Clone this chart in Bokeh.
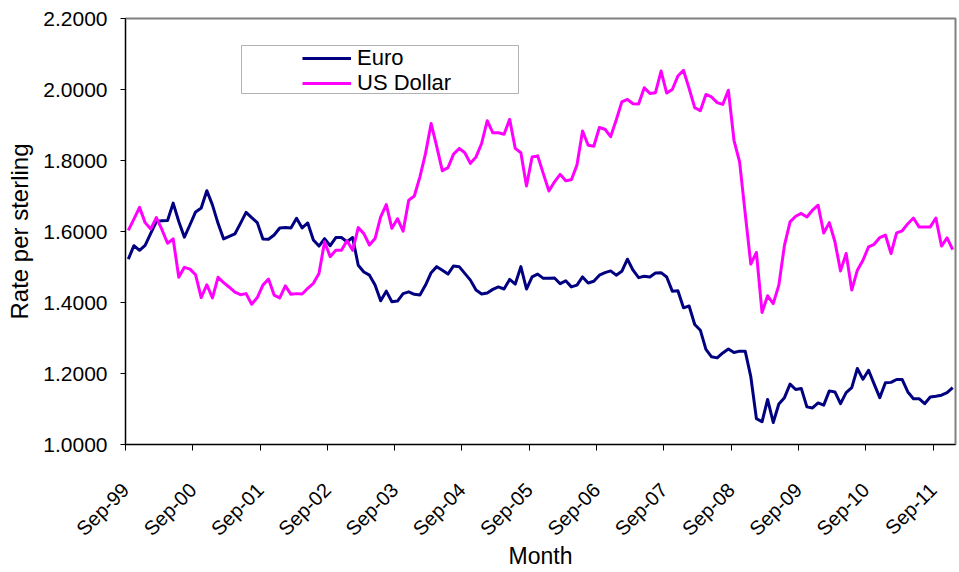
import math

from bokeh.embed import file_html
from bokeh.models import (BoxAnnotation, CustomJSTickFormatter, FixedTicker, Legend,
                          LegendItem, NumeralTickFormatter, Range1d)
from bokeh.plotting import figure
from bokeh.resources import INLINE

# Month-end rates per pound sterling, Sep 1999 to Dec 2011 (one value per month)
tick_labels = ["Sep-99", "Sep-00", "Sep-01", "Sep-02", "Sep-03", "Sep-04", "Sep-05",
               "Sep-06", "Sep-07", "Sep-08", "Sep-09", "Sep-10", "Sep-11"]

euro = [
    1.522, 1.560, 1.547, 1.561, 1.595, 1.628, 1.630, 1.631, 1.680, 1.628, 1.584, 1.619,
    1.655, 1.666, 1.715, 1.675, 1.623, 1.579, 1.586, 1.593, 1.623, 1.654, 1.639, 1.625,
    1.579, 1.578, 1.590, 1.610, 1.611, 1.610, 1.637, 1.610, 1.624, 1.576, 1.559, 1.580,
    1.560, 1.583, 1.583, 1.571, 1.583, 1.505, 1.486, 1.477, 1.449, 1.405, 1.432, 1.402,
    1.404, 1.425, 1.430, 1.423, 1.421, 1.449, 1.484, 1.501, 1.491, 1.480, 1.503, 1.501,
    1.482, 1.463, 1.435, 1.424, 1.427, 1.437, 1.444, 1.438, 1.465, 1.452, 1.501, 1.438,
    1.472, 1.480, 1.468, 1.468, 1.469, 1.453, 1.461, 1.444, 1.449, 1.472, 1.455, 1.460,
    1.477, 1.484, 1.489, 1.477, 1.488, 1.522, 1.491, 1.470, 1.474, 1.472, 1.483, 1.484,
    1.472, 1.432, 1.433, 1.385, 1.390, 1.338, 1.322, 1.268, 1.247, 1.244, 1.258, 1.269,
    1.259, 1.263, 1.263, 1.191, 1.073, 1.064, 1.127, 1.062, 1.114, 1.132, 1.170, 1.155,
    1.158, 1.106, 1.103, 1.117, 1.111, 1.151, 1.148, 1.115, 1.146, 1.160, 1.214, 1.184,
    1.209, 1.170, 1.132, 1.174, 1.175, 1.183, 1.183, 1.148, 1.129, 1.129, 1.115, 1.134,
    1.136, 1.139, 1.146, 1.160,
]

us_dollar = [
    1.603, 1.635, 1.668, 1.625, 1.607, 1.639, 1.605, 1.567, 1.579, 1.471, 1.499, 1.494,
    1.478, 1.414, 1.450, 1.413, 1.471, 1.456, 1.443, 1.429, 1.422, 1.425, 1.395, 1.414,
    1.449, 1.466, 1.421, 1.413, 1.447, 1.423, 1.425, 1.424, 1.440, 1.454, 1.482, 1.571,
    1.529, 1.547, 1.547, 1.574, 1.547, 1.611, 1.594, 1.562, 1.580, 1.641, 1.676, 1.609,
    1.636, 1.601, 1.688, 1.700, 1.754, 1.820, 1.904, 1.839, 1.771, 1.780, 1.818, 1.834,
    1.822, 1.792, 1.810, 1.848, 1.912, 1.878, 1.878, 1.874, 1.916, 1.834, 1.822, 1.728,
    1.810, 1.813, 1.763, 1.714, 1.740, 1.761, 1.743, 1.746, 1.787, 1.883, 1.843, 1.840,
    1.893, 1.888, 1.867, 1.914, 1.965, 1.972, 1.960, 1.959, 2.005, 1.989, 1.991, 2.052,
    1.990, 2.000, 2.038, 2.054, 2.003, 1.949, 1.940, 1.986, 1.979, 1.963, 1.958, 1.998,
    1.857, 1.796, 1.651, 1.508, 1.541, 1.372, 1.419, 1.397, 1.449, 1.561, 1.627, 1.643,
    1.651, 1.641, 1.660, 1.674, 1.596, 1.625, 1.571, 1.489, 1.538, 1.435, 1.491, 1.519,
    1.557, 1.564, 1.583, 1.590, 1.538, 1.596, 1.602, 1.622, 1.638, 1.613, 1.613, 1.613,
    1.638, 1.559, 1.582, 1.549,
]

series_names = ["Euro", "US Dollar"]
y_ticks = [1.0, 1.2, 1.4, 1.6, 1.8, 2.0, 2.2]

months = list(range(len(euro)))
FONT = "Liberation Sans"

p = figure(width=959, height=572, output_backend="svg", toolbar_location=None,
           x_range=Range1d(-0.5, len(euro) - 0.5), y_range=Range1d(1.0, 2.2),
           min_border_left=125, min_border_right=4, min_border_top=18,
           min_border_bottom=128, background_fill_color="white",
           border_fill_color="white")

p.xgrid.visible = False
p.ygrid.visible = False
p.outline_line_color = "#808080"
p.outline_line_width = 2

# category slots are one month wide; ticks sit on the left edge of each September
p.xaxis.ticker = FixedTicker(ticks=[12 * k - 0.5 for k in range(len(tick_labels))])
p.xaxis.formatter = CustomJSTickFormatter(
    args=dict(labels=tick_labels),
    code="const i = Math.round((tick + 0.5) / 12); return labels[i] || '';")
p.xaxis.major_label_orientation = math.pi / 4
p.xaxis.axis_label = "Month"

p.yaxis.ticker = FixedTicker(ticks=y_ticks)
p.yaxis.formatter = NumeralTickFormatter(format="0.0000")
p.yaxis.axis_label = "Rate per sterling"

for ax in (p.xaxis[0], p.yaxis[0]):
    ax.axis_line_color = "black"
    ax.axis_line_width = 1
    ax.major_tick_line_color = "black"
    ax.major_tick_in = 0
    ax.minor_tick_line_color = None
    ax.major_label_text_font = FONT
    ax.major_label_text_color = "black"
    ax.axis_label_text_font = FONT
    ax.axis_label_text_font_style = "normal"
    ax.axis_label_text_color = "black"

p.xaxis.major_label_text_font_size = "20px"
p.xaxis.axis_label_text_font_size = "23px"
p.xaxis.major_tick_out = 6
p.xaxis.major_label_standoff = 36
p.xaxis.axis_label_standoff = -8

p.yaxis.major_label_text_font_size = "21px"
p.yaxis.axis_label_text_font_size = "24px"
p.yaxis.major_tick_out = 5
p.yaxis.major_label_standoff = 13
p.yaxis.axis_label_standoff = 7

colors = ["#000080", "#FF00FF"]
renderers = [
    p.line(months, values, line_color=c, line_width=3, line_join="round")
    for values, c in zip([euro, us_dollar], colors)
]

# legend frame
p.add_layout(BoxAnnotation(left=241, right=518, top=45, bottom=93,
                           left_units="canvas", right_units="canvas",
                           top_units="canvas", bottom_units="canvas",
                           fill_color="white", fill_alpha=1.0,
                           line_color="black", line_width=1))

# one single-entry legend per series so the rows can sit tightly together
for name, r, y in zip(series_names, renderers, [371.5, 346.5]):
    p.add_layout(Legend(items=[LegendItem(label=name, renderers=[r])],
                        location=(177, y), padding=0, margin=0, spacing=0,
                        border_line_color=None, background_fill_alpha=0,
                        glyph_width=49, glyph_height=30, label_height=30,
                        label_standoff=6, label_text_font=FONT,
                        label_text_font_size="22px", label_text_color="black"))

open("out.html", "w").write(file_html(p, INLINE))
